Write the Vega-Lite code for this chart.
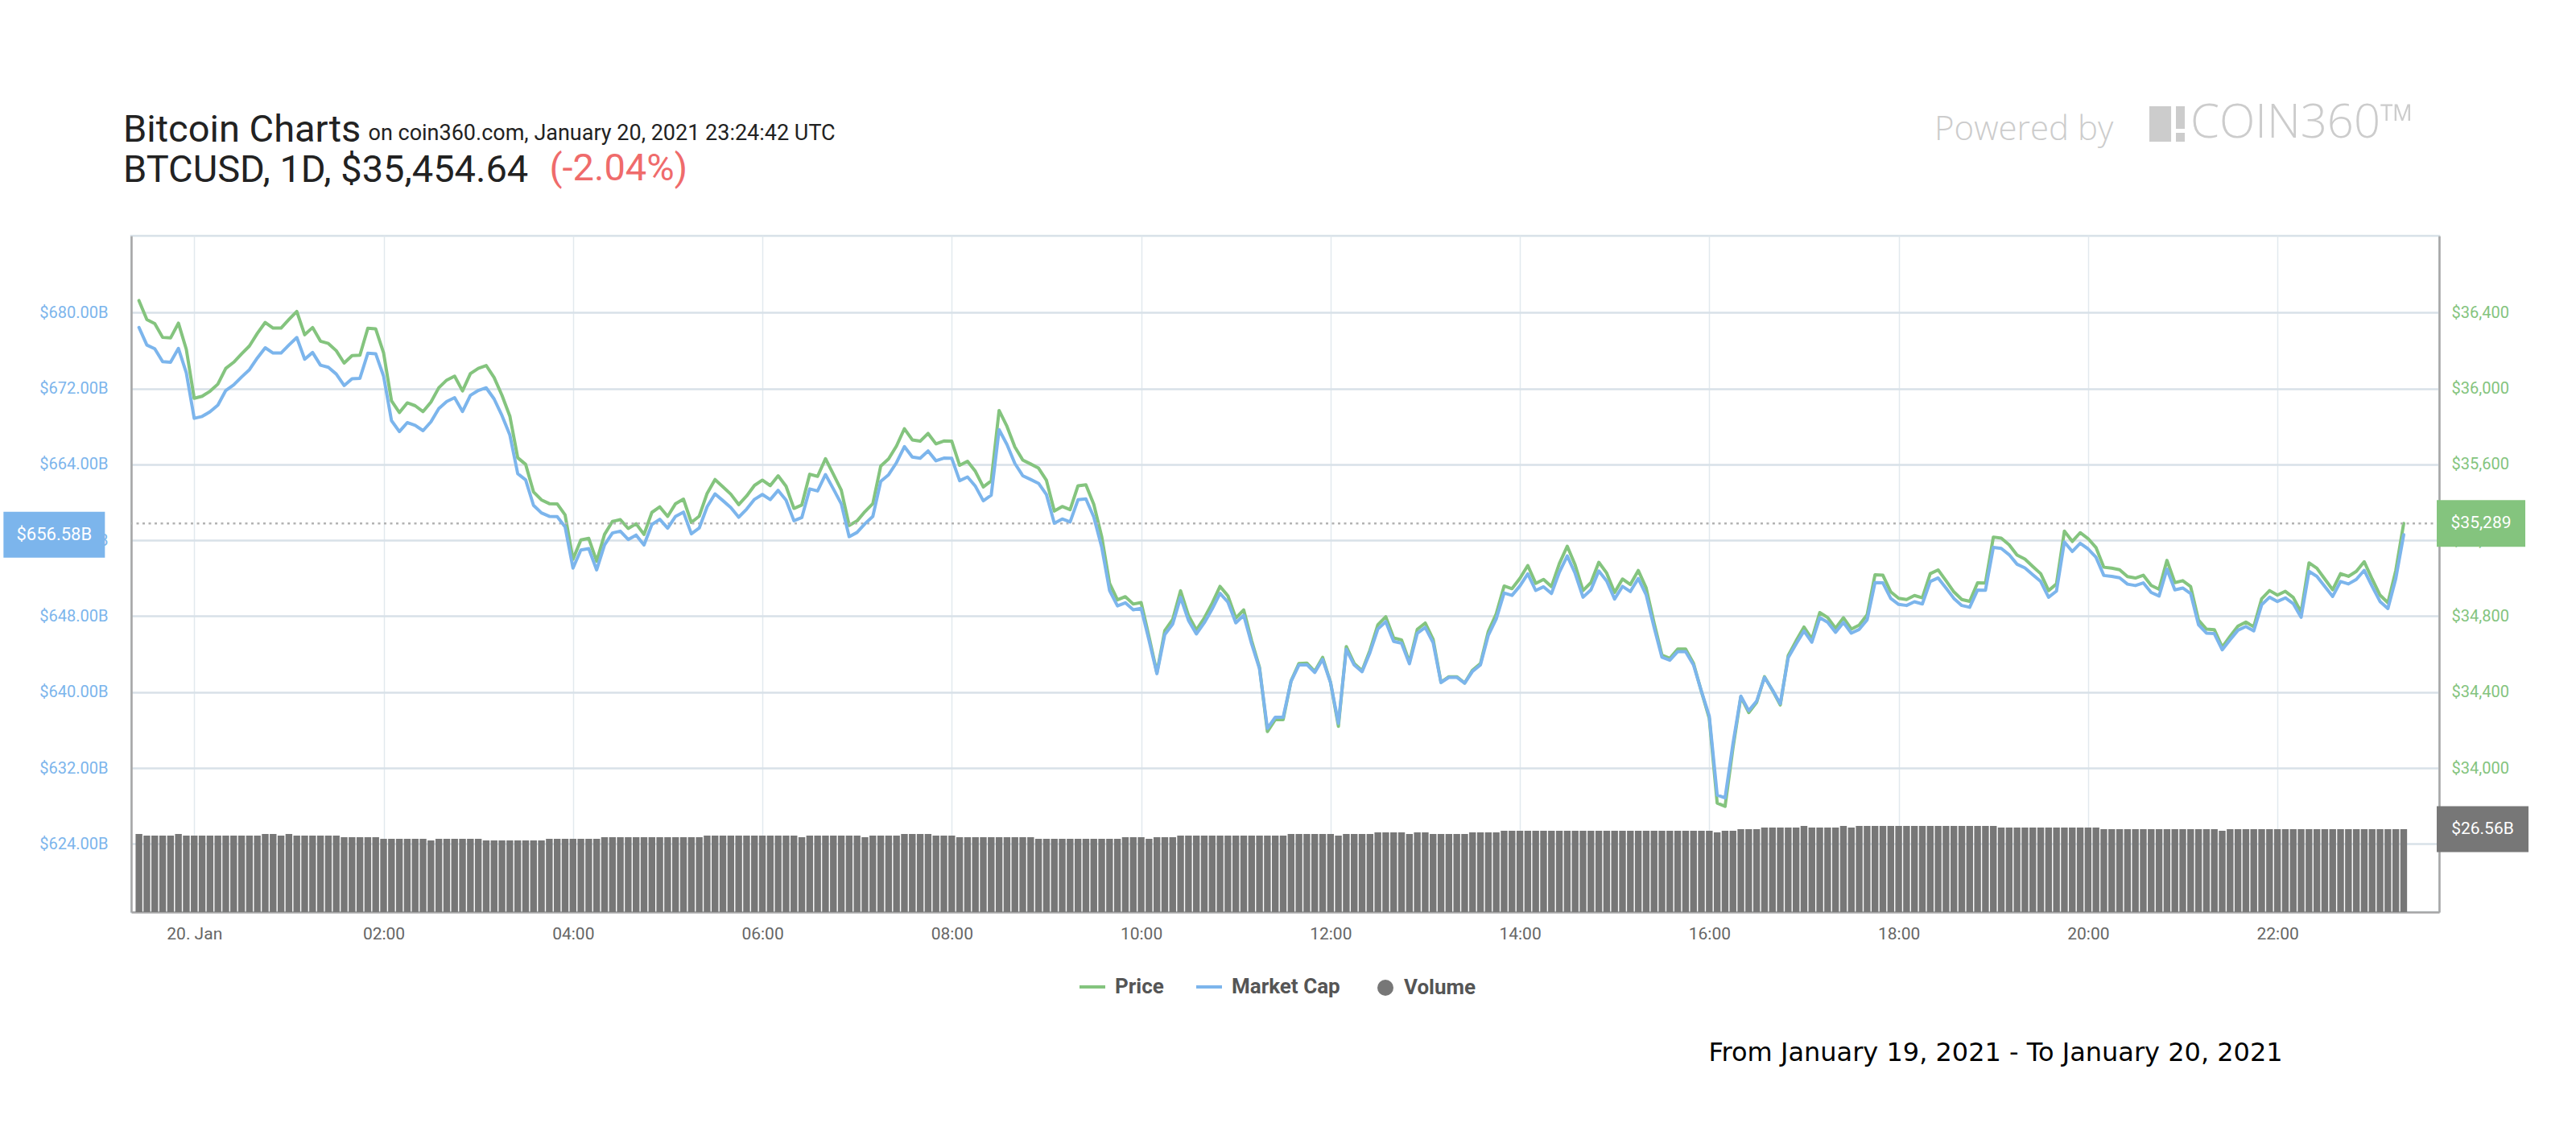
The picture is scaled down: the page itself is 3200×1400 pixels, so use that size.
{
  "$schema": "https://vega.github.io/schema/vega-lite/v6.json",
  "width": 2867,
  "height": 840,
  "autosize": {"type": "none"},
  "padding": {"left": 163, "top": 293, "right": 170, "bottom": 267},
  "background": "white",
  "title": {
    "text": "Bitcoin Charts",
    "subtitle": "BTCUSD, 1D, $35,454.64",
    "anchor": "start",
    "frame": "group",
    "dx": -10,
    "dy": 111,
    "offset": 0,
    "font": "Roboto",
    "fontSize": 47,
    "fontWeight": "normal",
    "color": "#222222",
    "subtitleFont": "Roboto",
    "subtitleFontSize": 47,
    "subtitleColor": "#222222",
    "subtitlePadding": 3
  },
  "data": {
    "values": [
      {"t": "2021-01-19T23:25Z", "price": 36463, "mcap": 678.43, "vol": 25.01},
      {"t": "2021-01-19T23:30Z", "price": 36363, "mcap": 676.57, "vol": 24.5},
      {"t": "2021-01-19T23:35Z", "price": 36342, "mcap": 676.18, "vol": 24.5},
      {"t": "2021-01-19T23:40Z", "price": 36269, "mcap": 674.82, "vol": 24.5},
      {"t": "2021-01-19T23:45Z", "price": 36266, "mcap": 674.76, "vol": 24.5},
      {"t": "2021-01-19T23:50Z", "price": 36344, "mcap": 676.22, "vol": 25.01},
      {"t": "2021-01-19T23:55Z", "price": 36206, "mcap": 673.65, "vol": 24.5},
      {"t": "2021-01-20T00:00Z", "price": 35948, "mcap": 668.85, "vol": 24.5},
      {"t": "2021-01-20T00:05Z", "price": 35959, "mcap": 669.05, "vol": 24.5},
      {"t": "2021-01-20T00:10Z", "price": 35985, "mcap": 669.54, "vol": 24.5},
      {"t": "2021-01-20T00:15Z", "price": 36023, "mcap": 670.24, "vol": 24.5},
      {"t": "2021-01-20T00:20Z", "price": 36106, "mcap": 671.79, "vol": 24.5},
      {"t": "2021-01-20T00:25Z", "price": 36138, "mcap": 672.38, "vol": 24.5},
      {"t": "2021-01-20T00:30Z", "price": 36182, "mcap": 673.2, "vol": 24.5},
      {"t": "2021-01-20T00:35Z", "price": 36224, "mcap": 673.98, "vol": 24.5},
      {"t": "2021-01-20T00:40Z", "price": 36290, "mcap": 675.21, "vol": 24.5},
      {"t": "2021-01-20T00:45Z", "price": 36348, "mcap": 676.29, "vol": 25.01},
      {"t": "2021-01-20T00:50Z", "price": 36318, "mcap": 675.73, "vol": 25.01},
      {"t": "2021-01-20T00:55Z", "price": 36318, "mcap": 675.73, "vol": 24.5},
      {"t": "2021-01-20T01:00Z", "price": 36363, "mcap": 676.57, "vol": 25.01},
      {"t": "2021-01-20T01:05Z", "price": 36406, "mcap": 677.37, "vol": 24.5},
      {"t": "2021-01-20T01:10Z", "price": 36283, "mcap": 675.08, "vol": 24.5},
      {"t": "2021-01-20T01:15Z", "price": 36321, "mcap": 675.79, "vol": 24.5},
      {"t": "2021-01-20T01:20Z", "price": 36249, "mcap": 674.45, "vol": 24.5},
      {"t": "2021-01-20T01:25Z", "price": 36237, "mcap": 674.23, "vol": 24.5},
      {"t": "2021-01-20T01:30Z", "price": 36199, "mcap": 673.52, "vol": 24.5},
      {"t": "2021-01-20T01:35Z", "price": 36134, "mcap": 672.31, "vol": 23.98},
      {"t": "2021-01-20T01:40Z", "price": 36173, "mcap": 673.03, "vol": 23.98},
      {"t": "2021-01-20T01:45Z", "price": 36175, "mcap": 673.07, "vol": 23.98},
      {"t": "2021-01-20T01:50Z", "price": 36317, "mcap": 675.71, "vol": 23.98},
      {"t": "2021-01-20T01:55Z", "price": 36314, "mcap": 675.66, "vol": 23.98},
      {"t": "2021-01-20T02:00Z", "price": 36187, "mcap": 673.3, "vol": 23.47},
      {"t": "2021-01-20T02:05Z", "price": 35935, "mcap": 668.61, "vol": 23.47},
      {"t": "2021-01-20T02:10Z", "price": 35873, "mcap": 667.45, "vol": 23.47},
      {"t": "2021-01-20T02:15Z", "price": 35924, "mcap": 668.4, "vol": 23.47},
      {"t": "2021-01-20T02:20Z", "price": 35909, "mcap": 668.12, "vol": 23.47},
      {"t": "2021-01-20T02:25Z", "price": 35878, "mcap": 667.55, "vol": 23.47},
      {"t": "2021-01-20T02:30Z", "price": 35928, "mcap": 668.48, "vol": 22.95},
      {"t": "2021-01-20T02:35Z", "price": 36004, "mcap": 669.89, "vol": 23.47},
      {"t": "2021-01-20T02:40Z", "price": 36044, "mcap": 670.63, "vol": 23.47},
      {"t": "2021-01-20T02:45Z", "price": 36065, "mcap": 671.03, "vol": 23.47},
      {"t": "2021-01-20T02:50Z", "price": 35987, "mcap": 669.57, "vol": 23.47},
      {"t": "2021-01-20T02:55Z", "price": 36078, "mcap": 671.27, "vol": 23.47},
      {"t": "2021-01-20T03:00Z", "price": 36106, "mcap": 671.79, "vol": 23.47},
      {"t": "2021-01-20T03:05Z", "price": 36121, "mcap": 672.07, "vol": 22.95},
      {"t": "2021-01-20T03:10Z", "price": 36058, "mcap": 670.9, "vol": 22.95},
      {"t": "2021-01-20T03:15Z", "price": 35964, "mcap": 669.15, "vol": 22.95},
      {"t": "2021-01-20T03:20Z", "price": 35854, "mcap": 667.1, "vol": 22.95},
      {"t": "2021-01-20T03:25Z", "price": 35635, "mcap": 663.02, "vol": 22.95},
      {"t": "2021-01-20T03:30Z", "price": 35600, "mcap": 662.37, "vol": 22.95},
      {"t": "2021-01-20T03:35Z", "price": 35455, "mcap": 659.68, "vol": 22.95},
      {"t": "2021-01-20T03:40Z", "price": 35413, "mcap": 658.89, "vol": 22.95},
      {"t": "2021-01-20T03:45Z", "price": 35393, "mcap": 658.52, "vol": 23.47},
      {"t": "2021-01-20T03:50Z", "price": 35392, "mcap": 658.5, "vol": 23.47},
      {"t": "2021-01-20T03:55Z", "price": 35334, "mcap": 657.42, "vol": 23.47},
      {"t": "2021-01-20T04:00Z", "price": 35100, "mcap": 653.07, "vol": 23.47},
      {"t": "2021-01-20T04:05Z", "price": 35202, "mcap": 654.97, "vol": 23.47},
      {"t": "2021-01-20T04:10Z", "price": 35210, "mcap": 655.12, "vol": 23.47},
      {"t": "2021-01-20T04:15Z", "price": 35090, "mcap": 652.88, "vol": 23.47},
      {"t": "2021-01-20T04:20Z", "price": 35231, "mcap": 655.51, "vol": 23.98},
      {"t": "2021-01-20T04:25Z", "price": 35299, "mcap": 656.77, "vol": 23.98},
      {"t": "2021-01-20T04:30Z", "price": 35309, "mcap": 656.96, "vol": 23.98},
      {"t": "2021-01-20T04:35Z", "price": 35262, "mcap": 656.08, "vol": 23.98},
      {"t": "2021-01-20T04:40Z", "price": 35287, "mcap": 656.55, "vol": 23.98},
      {"t": "2021-01-20T04:45Z", "price": 35231, "mcap": 655.51, "vol": 23.98},
      {"t": "2021-01-20T04:50Z", "price": 35347, "mcap": 657.67, "vol": 23.98},
      {"t": "2021-01-20T04:55Z", "price": 35376, "mcap": 658.21, "vol": 23.98},
      {"t": "2021-01-20T05:00Z", "price": 35326, "mcap": 657.28, "vol": 23.98},
      {"t": "2021-01-20T05:05Z", "price": 35393, "mcap": 658.52, "vol": 23.98},
      {"t": "2021-01-20T05:10Z", "price": 35417, "mcap": 658.97, "vol": 23.98},
      {"t": "2021-01-20T05:15Z", "price": 35294, "mcap": 656.68, "vol": 23.98},
      {"t": "2021-01-20T05:20Z", "price": 35327, "mcap": 657.29, "vol": 23.98},
      {"t": "2021-01-20T05:25Z", "price": 35447, "mcap": 659.53, "vol": 24.5},
      {"t": "2021-01-20T05:30Z", "price": 35520, "mcap": 660.89, "vol": 24.5},
      {"t": "2021-01-20T05:35Z", "price": 35482, "mcap": 660.18, "vol": 24.5},
      {"t": "2021-01-20T05:40Z", "price": 35443, "mcap": 659.45, "vol": 24.5},
      {"t": "2021-01-20T05:45Z", "price": 35388, "mcap": 658.43, "vol": 24.5},
      {"t": "2021-01-20T05:50Z", "price": 35433, "mcap": 659.27, "vol": 24.5},
      {"t": "2021-01-20T05:55Z", "price": 35489, "mcap": 660.31, "vol": 24.5},
      {"t": "2021-01-20T06:00Z", "price": 35517, "mcap": 660.83, "vol": 24.5},
      {"t": "2021-01-20T06:05Z", "price": 35488, "mcap": 660.29, "vol": 24.5},
      {"t": "2021-01-20T06:10Z", "price": 35540, "mcap": 661.26, "vol": 24.5},
      {"t": "2021-01-20T06:15Z", "price": 35485, "mcap": 660.23, "vol": 24.5},
      {"t": "2021-01-20T06:20Z", "price": 35368, "mcap": 658.06, "vol": 24.5},
      {"t": "2021-01-20T06:25Z", "price": 35386, "mcap": 658.39, "vol": 23.98},
      {"t": "2021-01-20T06:30Z", "price": 35548, "mcap": 661.41, "vol": 24.5},
      {"t": "2021-01-20T06:35Z", "price": 35537, "mcap": 661.2, "vol": 24.5},
      {"t": "2021-01-20T06:40Z", "price": 35630, "mcap": 662.93, "vol": 24.5},
      {"t": "2021-01-20T06:45Z", "price": 35548, "mcap": 661.41, "vol": 24.5},
      {"t": "2021-01-20T06:50Z", "price": 35464, "mcap": 659.84, "vol": 24.5},
      {"t": "2021-01-20T06:55Z", "price": 35278, "mcap": 656.38, "vol": 24.5},
      {"t": "2021-01-20T07:00Z", "price": 35302, "mcap": 656.83, "vol": 24.5},
      {"t": "2021-01-20T07:05Z", "price": 35351, "mcap": 657.74, "vol": 23.98},
      {"t": "2021-01-20T07:10Z", "price": 35393, "mcap": 658.52, "vol": 24.5},
      {"t": "2021-01-20T07:15Z", "price": 35591, "mcap": 662.21, "vol": 24.5},
      {"t": "2021-01-20T07:20Z", "price": 35629, "mcap": 662.91, "vol": 24.5},
      {"t": "2021-01-20T07:25Z", "price": 35697, "mcap": 664.18, "vol": 24.5},
      {"t": "2021-01-20T07:30Z", "price": 35788, "mcap": 665.87, "vol": 25.01},
      {"t": "2021-01-20T07:35Z", "price": 35729, "mcap": 664.77, "vol": 25.01},
      {"t": "2021-01-20T07:40Z", "price": 35722, "mcap": 664.64, "vol": 25.01},
      {"t": "2021-01-20T07:45Z", "price": 35763, "mcap": 665.41, "vol": 25.01},
      {"t": "2021-01-20T07:50Z", "price": 35708, "mcap": 664.38, "vol": 24.5},
      {"t": "2021-01-20T07:55Z", "price": 35723, "mcap": 664.66, "vol": 24.5},
      {"t": "2021-01-20T08:00Z", "price": 35722, "mcap": 664.64, "vol": 24.5},
      {"t": "2021-01-20T08:05Z", "price": 35595, "mcap": 662.28, "vol": 23.98},
      {"t": "2021-01-20T08:10Z", "price": 35616, "mcap": 662.67, "vol": 23.98},
      {"t": "2021-01-20T08:15Z", "price": 35563, "mcap": 661.69, "vol": 23.98},
      {"t": "2021-01-20T08:20Z", "price": 35481, "mcap": 660.16, "vol": 23.98},
      {"t": "2021-01-20T08:25Z", "price": 35513, "mcap": 660.75, "vol": 23.98},
      {"t": "2021-01-20T08:30Z", "price": 35884, "mcap": 667.66, "vol": 23.98},
      {"t": "2021-01-20T08:35Z", "price": 35800, "mcap": 666.09, "vol": 23.98},
      {"t": "2021-01-20T08:40Z", "price": 35692, "mcap": 664.09, "vol": 23.98},
      {"t": "2021-01-20T08:45Z", "price": 35623, "mcap": 662.8, "vol": 23.98},
      {"t": "2021-01-20T08:50Z", "price": 35602, "mcap": 662.41, "vol": 23.98},
      {"t": "2021-01-20T08:55Z", "price": 35580, "mcap": 662.0, "vol": 23.47},
      {"t": "2021-01-20T09:00Z", "price": 35516, "mcap": 660.81, "vol": 23.47},
      {"t": "2021-01-20T09:05Z", "price": 35354, "mcap": 657.8, "vol": 23.47},
      {"t": "2021-01-20T09:10Z", "price": 35378, "mcap": 658.24, "vol": 23.47},
      {"t": "2021-01-20T09:15Z", "price": 35361, "mcap": 657.93, "vol": 23.47},
      {"t": "2021-01-20T09:20Z", "price": 35487, "mcap": 660.27, "vol": 23.47},
      {"t": "2021-01-20T09:25Z", "price": 35492, "mcap": 660.36, "vol": 23.47},
      {"t": "2021-01-20T09:30Z", "price": 35389, "mcap": 658.45, "vol": 23.47},
      {"t": "2021-01-20T09:35Z", "price": 35220, "mcap": 655.3, "vol": 23.47},
      {"t": "2021-01-20T09:40Z", "price": 34973, "mcap": 650.71, "vol": 23.47},
      {"t": "2021-01-20T09:45Z", "price": 34886, "mcap": 649.09, "vol": 23.47},
      {"t": "2021-01-20T09:50Z", "price": 34903, "mcap": 649.41, "vol": 23.98},
      {"t": "2021-01-20T09:55Z", "price": 34864, "mcap": 648.68, "vol": 23.98},
      {"t": "2021-01-20T10:00Z", "price": 34872, "mcap": 648.83, "vol": 23.98},
      {"t": "2021-01-20T10:05Z", "price": 34692, "mcap": 645.48, "vol": 23.47},
      {"t": "2021-01-20T10:10Z", "price": 34502, "mcap": 641.94, "vol": 23.98},
      {"t": "2021-01-20T10:15Z", "price": 34724, "mcap": 646.07, "vol": 23.98},
      {"t": "2021-01-20T10:20Z", "price": 34783, "mcap": 647.17, "vol": 23.98},
      {"t": "2021-01-20T10:25Z", "price": 34934, "mcap": 649.98, "vol": 24.5},
      {"t": "2021-01-20T10:30Z", "price": 34804, "mcap": 647.56, "vol": 24.5},
      {"t": "2021-01-20T10:35Z", "price": 34727, "mcap": 646.13, "vol": 24.5},
      {"t": "2021-01-20T10:40Z", "price": 34790, "mcap": 647.3, "vol": 24.5},
      {"t": "2021-01-20T10:45Z", "price": 34868, "mcap": 648.75, "vol": 24.5},
      {"t": "2021-01-20T10:50Z", "price": 34957, "mcap": 650.41, "vol": 24.5},
      {"t": "2021-01-20T10:55Z", "price": 34907, "mcap": 649.48, "vol": 24.5},
      {"t": "2021-01-20T11:00Z", "price": 34790, "mcap": 647.3, "vol": 24.5},
      {"t": "2021-01-20T11:05Z", "price": 34833, "mcap": 648.1, "vol": 24.5},
      {"t": "2021-01-20T11:10Z", "price": 34671, "mcap": 645.09, "vol": 24.5},
      {"t": "2021-01-20T11:15Z", "price": 34530, "mcap": 642.47, "vol": 24.5},
      {"t": "2021-01-20T11:20Z", "price": 34192, "mcap": 636.18, "vol": 24.5},
      {"t": "2021-01-20T11:25Z", "price": 34255, "mcap": 637.35, "vol": 24.5},
      {"t": "2021-01-20T11:30Z", "price": 34255, "mcap": 637.35, "vol": 24.5},
      {"t": "2021-01-20T11:35Z", "price": 34459, "mcap": 641.14, "vol": 25.01},
      {"t": "2021-01-20T11:40Z", "price": 34551, "mcap": 642.86, "vol": 25.01},
      {"t": "2021-01-20T11:45Z", "price": 34553, "mcap": 642.89, "vol": 25.01},
      {"t": "2021-01-20T11:50Z", "price": 34509, "mcap": 642.07, "vol": 25.01},
      {"t": "2021-01-20T11:55Z", "price": 34583, "mcap": 643.45, "vol": 25.01},
      {"t": "2021-01-20T12:00Z", "price": 34452, "mcap": 641.01, "vol": 25.01},
      {"t": "2021-01-20T12:05Z", "price": 34220, "mcap": 636.7, "vol": 24.5},
      {"t": "2021-01-20T12:10Z", "price": 34640, "mcap": 644.51, "vol": 25.01},
      {"t": "2021-01-20T12:15Z", "price": 34551, "mcap": 642.86, "vol": 25.01},
      {"t": "2021-01-20T12:20Z", "price": 34513, "mcap": 642.15, "vol": 25.01},
      {"t": "2021-01-20T12:25Z", "price": 34621, "mcap": 644.16, "vol": 25.01},
      {"t": "2021-01-20T12:30Z", "price": 34755, "mcap": 646.65, "vol": 25.53},
      {"t": "2021-01-20T12:35Z", "price": 34797, "mcap": 647.43, "vol": 25.53},
      {"t": "2021-01-20T12:40Z", "price": 34685, "mcap": 645.35, "vol": 25.53},
      {"t": "2021-01-20T12:45Z", "price": 34675, "mcap": 645.16, "vol": 25.53},
      {"t": "2021-01-20T12:50Z", "price": 34558, "mcap": 642.99, "vol": 25.01},
      {"t": "2021-01-20T12:55Z", "price": 34731, "mcap": 646.21, "vol": 25.53},
      {"t": "2021-01-20T13:00Z", "price": 34764, "mcap": 646.82, "vol": 25.53},
      {"t": "2021-01-20T13:05Z", "price": 34678, "mcap": 645.22, "vol": 25.01},
      {"t": "2021-01-20T13:10Z", "price": 34452, "mcap": 641.01, "vol": 25.01},
      {"t": "2021-01-20T13:15Z", "price": 34481, "mcap": 641.55, "vol": 25.01},
      {"t": "2021-01-20T13:20Z", "price": 34481, "mcap": 641.55, "vol": 25.01},
      {"t": "2021-01-20T13:25Z", "price": 34448, "mcap": 640.94, "vol": 25.01},
      {"t": "2021-01-20T13:30Z", "price": 34516, "mcap": 642.2, "vol": 25.53},
      {"t": "2021-01-20T13:35Z", "price": 34551, "mcap": 642.86, "vol": 25.53},
      {"t": "2021-01-20T13:40Z", "price": 34720, "mcap": 646.0, "vol": 25.53},
      {"t": "2021-01-20T13:45Z", "price": 34812, "mcap": 647.71, "vol": 25.53},
      {"t": "2021-01-20T13:50Z", "price": 34959, "mcap": 650.45, "vol": 26.05},
      {"t": "2021-01-20T13:55Z", "price": 34945, "mcap": 650.19, "vol": 26.05},
      {"t": "2021-01-20T14:00Z", "price": 34999, "mcap": 651.19, "vol": 26.05},
      {"t": "2021-01-20T14:05Z", "price": 35067, "mcap": 652.46, "vol": 26.05},
      {"t": "2021-01-20T14:10Z", "price": 34973, "mcap": 650.71, "vol": 26.05},
      {"t": "2021-01-20T14:15Z", "price": 34994, "mcap": 651.1, "vol": 26.05},
      {"t": "2021-01-20T14:20Z", "price": 34956, "mcap": 650.39, "vol": 26.05},
      {"t": "2021-01-20T14:25Z", "price": 35077, "mcap": 652.64, "vol": 26.05},
      {"t": "2021-01-20T14:30Z", "price": 35169, "mcap": 654.35, "vol": 26.05},
      {"t": "2021-01-20T14:35Z", "price": 35070, "mcap": 652.51, "vol": 26.05},
      {"t": "2021-01-20T14:40Z", "price": 34935, "mcap": 650.0, "vol": 26.05},
      {"t": "2021-01-20T14:45Z", "price": 34977, "mcap": 650.78, "vol": 26.05},
      {"t": "2021-01-20T14:50Z", "price": 35084, "mcap": 652.77, "vol": 26.05},
      {"t": "2021-01-20T14:55Z", "price": 35027, "mcap": 651.71, "vol": 26.05},
      {"t": "2021-01-20T15:00Z", "price": 34925, "mcap": 649.81, "vol": 26.05},
      {"t": "2021-01-20T15:05Z", "price": 34996, "mcap": 651.14, "vol": 26.05},
      {"t": "2021-01-20T15:10Z", "price": 34967, "mcap": 650.6, "vol": 26.05},
      {"t": "2021-01-20T15:15Z", "price": 35041, "mcap": 651.97, "vol": 26.05},
      {"t": "2021-01-20T15:20Z", "price": 34949, "mcap": 650.26, "vol": 26.05},
      {"t": "2021-01-20T15:25Z", "price": 34765, "mcap": 646.84, "vol": 26.05},
      {"t": "2021-01-20T15:30Z", "price": 34595, "mcap": 643.67, "vol": 26.05},
      {"t": "2021-01-20T15:35Z", "price": 34578, "mcap": 643.36, "vol": 26.05},
      {"t": "2021-01-20T15:40Z", "price": 34627, "mcap": 644.27, "vol": 26.05},
      {"t": "2021-01-20T15:45Z", "price": 34627, "mcap": 644.27, "vol": 26.05},
      {"t": "2021-01-20T15:50Z", "price": 34552, "mcap": 642.87, "vol": 26.05},
      {"t": "2021-01-20T15:55Z", "price": 34403, "mcap": 640.1, "vol": 26.05},
      {"t": "2021-01-20T16:00Z", "price": 34261, "mcap": 637.46, "vol": 26.05},
      {"t": "2021-01-20T16:05Z", "price": 33815, "mcap": 629.16, "vol": 25.53},
      {"t": "2021-01-20T16:10Z", "price": 33798, "mcap": 628.85, "vol": 26.05},
      {"t": "2021-01-20T16:15Z", "price": 34105, "mcap": 634.56, "vol": 26.05},
      {"t": "2021-01-20T16:20Z", "price": 34375, "mcap": 639.58, "vol": 26.56},
      {"t": "2021-01-20T16:25Z", "price": 34292, "mcap": 638.04, "vol": 26.56},
      {"t": "2021-01-20T16:30Z", "price": 34346, "mcap": 639.04, "vol": 26.56},
      {"t": "2021-01-20T16:35Z", "price": 34481, "mcap": 641.55, "vol": 27.08},
      {"t": "2021-01-20T16:40Z", "price": 34410, "mcap": 640.23, "vol": 27.08},
      {"t": "2021-01-20T16:45Z", "price": 34332, "mcap": 638.78, "vol": 27.08},
      {"t": "2021-01-20T16:50Z", "price": 34592, "mcap": 643.62, "vol": 27.08},
      {"t": "2021-01-20T16:55Z", "price": 34670, "mcap": 645.07, "vol": 27.08},
      {"t": "2021-01-20T17:00Z", "price": 34743, "mcap": 646.43, "vol": 27.59},
      {"t": "2021-01-20T17:05Z", "price": 34680, "mcap": 645.26, "vol": 27.08},
      {"t": "2021-01-20T17:10Z", "price": 34819, "mcap": 647.84, "vol": 27.08},
      {"t": "2021-01-20T17:15Z", "price": 34793, "mcap": 647.36, "vol": 27.08},
      {"t": "2021-01-20T17:20Z", "price": 34736, "mcap": 646.3, "vol": 27.08},
      {"t": "2021-01-20T17:25Z", "price": 34792, "mcap": 647.34, "vol": 27.59},
      {"t": "2021-01-20T17:30Z", "price": 34732, "mcap": 646.22, "vol": 27.08},
      {"t": "2021-01-20T17:35Z", "price": 34753, "mcap": 646.61, "vol": 27.59},
      {"t": "2021-01-20T17:40Z", "price": 34807, "mcap": 647.62, "vol": 27.59},
      {"t": "2021-01-20T17:45Z", "price": 35018, "mcap": 651.54, "vol": 27.59},
      {"t": "2021-01-20T17:50Z", "price": 35016, "mcap": 651.51, "vol": 27.59},
      {"t": "2021-01-20T17:55Z", "price": 34928, "mcap": 649.87, "vol": 27.59},
      {"t": "2021-01-20T18:00Z", "price": 34894, "mcap": 649.24, "vol": 27.59},
      {"t": "2021-01-20T18:05Z", "price": 34888, "mcap": 649.13, "vol": 27.59},
      {"t": "2021-01-20T18:10Z", "price": 34909, "mcap": 649.52, "vol": 27.59},
      {"t": "2021-01-20T18:15Z", "price": 34897, "mcap": 649.29, "vol": 27.59},
      {"t": "2021-01-20T18:20Z", "price": 35024, "mcap": 651.66, "vol": 27.59},
      {"t": "2021-01-20T18:25Z", "price": 35044, "mcap": 652.03, "vol": 27.59},
      {"t": "2021-01-20T18:30Z", "price": 34987, "mcap": 650.97, "vol": 27.59},
      {"t": "2021-01-20T18:35Z", "price": 34928, "mcap": 649.87, "vol": 27.59},
      {"t": "2021-01-20T18:40Z", "price": 34888, "mcap": 649.13, "vol": 27.59},
      {"t": "2021-01-20T18:45Z", "price": 34878, "mcap": 648.94, "vol": 27.59},
      {"t": "2021-01-20T18:50Z", "price": 34976, "mcap": 650.76, "vol": 27.59},
      {"t": "2021-01-20T18:55Z", "price": 34975, "mcap": 650.74, "vol": 27.59},
      {"t": "2021-01-20T19:00Z", "price": 35217, "mcap": 655.25, "vol": 27.59},
      {"t": "2021-01-20T19:05Z", "price": 35211, "mcap": 655.14, "vol": 27.08},
      {"t": "2021-01-20T19:10Z", "price": 35176, "mcap": 654.48, "vol": 27.08},
      {"t": "2021-01-20T19:15Z", "price": 35122, "mcap": 653.48, "vol": 27.08},
      {"t": "2021-01-20T19:20Z", "price": 35101, "mcap": 653.09, "vol": 27.08},
      {"t": "2021-01-20T19:25Z", "price": 35062, "mcap": 652.36, "vol": 27.08},
      {"t": "2021-01-20T19:30Z", "price": 35024, "mcap": 651.66, "vol": 27.08},
      {"t": "2021-01-20T19:35Z", "price": 34935, "mcap": 650.0, "vol": 27.08},
      {"t": "2021-01-20T19:40Z", "price": 34970, "mcap": 650.65, "vol": 27.08},
      {"t": "2021-01-20T19:45Z", "price": 35248, "mcap": 655.82, "vol": 27.08},
      {"t": "2021-01-20T19:50Z", "price": 35194, "mcap": 654.82, "vol": 27.08},
      {"t": "2021-01-20T19:55Z", "price": 35240, "mcap": 655.68, "vol": 27.08},
      {"t": "2021-01-20T20:00Z", "price": 35209, "mcap": 655.1, "vol": 27.08},
      {"t": "2021-01-20T20:05Z", "price": 35162, "mcap": 654.22, "vol": 27.08},
      {"t": "2021-01-20T20:10Z", "price": 35058, "mcap": 652.29, "vol": 26.56},
      {"t": "2021-01-20T20:15Z", "price": 35053, "mcap": 652.2, "vol": 26.56},
      {"t": "2021-01-20T20:20Z", "price": 35045, "mcap": 652.05, "vol": 26.56},
      {"t": "2021-01-20T20:25Z", "price": 35009, "mcap": 651.38, "vol": 26.56},
      {"t": "2021-01-20T20:30Z", "price": 35001, "mcap": 651.23, "vol": 26.56},
      {"t": "2021-01-20T20:35Z", "price": 35016, "mcap": 651.51, "vol": 26.56},
      {"t": "2021-01-20T20:40Z", "price": 34962, "mcap": 650.5, "vol": 26.56},
      {"t": "2021-01-20T20:45Z", "price": 34942, "mcap": 650.13, "vol": 26.56},
      {"t": "2021-01-20T20:50Z", "price": 35094, "mcap": 652.96, "vol": 26.56},
      {"t": "2021-01-20T20:55Z", "price": 34977, "mcap": 650.78, "vol": 26.56},
      {"t": "2021-01-20T21:00Z", "price": 34987, "mcap": 650.97, "vol": 26.56},
      {"t": "2021-01-20T21:05Z", "price": 34956, "mcap": 650.39, "vol": 26.56},
      {"t": "2021-01-20T21:10Z", "price": 34779, "mcap": 647.1, "vol": 26.56},
      {"t": "2021-01-20T21:15Z", "price": 34732, "mcap": 646.22, "vol": 26.56},
      {"t": "2021-01-20T21:20Z", "price": 34729, "mcap": 646.17, "vol": 26.56},
      {"t": "2021-01-20T21:25Z", "price": 34637, "mcap": 644.46, "vol": 26.05},
      {"t": "2021-01-20T21:30Z", "price": 34694, "mcap": 645.52, "vol": 26.56},
      {"t": "2021-01-20T21:35Z", "price": 34748, "mcap": 646.52, "vol": 26.56},
      {"t": "2021-01-20T21:40Z", "price": 34769, "mcap": 646.91, "vol": 26.56},
      {"t": "2021-01-20T21:45Z", "price": 34744, "mcap": 646.45, "vol": 26.56},
      {"t": "2021-01-20T21:50Z", "price": 34892, "mcap": 649.2, "vol": 26.56},
      {"t": "2021-01-20T21:55Z", "price": 34935, "mcap": 650.0, "vol": 26.56},
      {"t": "2021-01-20T22:00Z", "price": 34911, "mcap": 649.55, "vol": 26.56},
      {"t": "2021-01-20T22:05Z", "price": 34931, "mcap": 649.93, "vol": 26.56},
      {"t": "2021-01-20T22:10Z", "price": 34899, "mcap": 649.33, "vol": 26.56},
      {"t": "2021-01-20T22:15Z", "price": 34821, "mcap": 647.88, "vol": 26.56},
      {"t": "2021-01-20T22:20Z", "price": 35081, "mcap": 652.72, "vol": 26.56},
      {"t": "2021-01-20T22:25Z", "price": 35053, "mcap": 652.2, "vol": 26.56},
      {"t": "2021-01-20T22:30Z", "price": 34996, "mcap": 651.14, "vol": 26.56},
      {"t": "2021-01-20T22:35Z", "price": 34939, "mcap": 650.08, "vol": 26.56},
      {"t": "2021-01-20T22:40Z", "price": 35024, "mcap": 651.66, "vol": 26.56},
      {"t": "2021-01-20T22:45Z", "price": 35010, "mcap": 651.4, "vol": 26.56},
      {"t": "2021-01-20T22:50Z", "price": 35036, "mcap": 651.88, "vol": 26.56},
      {"t": "2021-01-20T22:55Z", "price": 35087, "mcap": 652.83, "vol": 26.56},
      {"t": "2021-01-20T23:00Z", "price": 34996, "mcap": 651.14, "vol": 26.56},
      {"t": "2021-01-20T23:05Z", "price": 34911, "mcap": 649.55, "vol": 26.56},
      {"t": "2021-01-20T23:10Z", "price": 34871, "mcap": 648.81, "vol": 26.56},
      {"t": "2021-01-20T23:15Z", "price": 35041, "mcap": 651.97, "vol": 26.56},
      {"t": "2021-01-20T23:20Z", "price": 35289, "mcap": 656.58, "vol": 26.56}
    ]
  },
  "layer": [
    {
      "mark": {"type": "line", "strokeWidth": 4, "strokeJoin": "round", "strokeCap": "round"},
      "encoding": {
        "x": {
          "field": "t",
          "type": "temporal",
          "scale": {"type": "utc", "nice": false, "domain": [{"year": 2021, "month": 1, "date": 19, "hours": 23, "minutes": 22, "seconds": 38, "utc": true}, {"year": 2021, "month": 1, "date": 20, "hours": 23, "minutes": 39, "seconds": 55, "utc": true}]},
          "axis": {
            "values": [
              {"year": 2021, "month": 1, "date": 20, "hours": 0, "utc": true},
              {"year": 2021, "month": 1, "date": 20, "hours": 2, "utc": true},
              {"year": 2021, "month": 1, "date": 20, "hours": 4, "utc": true},
              {"year": 2021, "month": 1, "date": 20, "hours": 6, "utc": true},
              {"year": 2021, "month": 1, "date": 20, "hours": 8, "utc": true},
              {"year": 2021, "month": 1, "date": 20, "hours": 10, "utc": true},
              {"year": 2021, "month": 1, "date": 20, "hours": 12, "utc": true},
              {"year": 2021, "month": 1, "date": 20, "hours": 14, "utc": true},
              {"year": 2021, "month": 1, "date": 20, "hours": 16, "utc": true},
              {"year": 2021, "month": 1, "date": 20, "hours": 18, "utc": true},
              {"year": 2021, "month": 1, "date": 20, "hours": 20, "utc": true},
              {"year": 2021, "month": 1, "date": 20, "hours": 22, "utc": true}
            ],
            "format": "%H:%M",
            "labelExpr": "datum.label == '00:00' ? '20. Jan' : datum.label",
            "labelFont": "Roboto",
            "labelFontSize": 21,
            "labelColor": "#666666",
            "labelPadding": 16,
            "labelFlush": false,
            "labelOverlap": false,
            "ticks": false,
            "grid": true,
            "gridColor": "#e2e9ee",
            "gridWidth": 1.5,
            "domainColor": "#a6a6a6",
            "domainWidth": 2.5,
            "title": "From January 19, 2021 - To January 20, 2021",
            "titleX": 1959,
            "titleY": 184,
            "titleAlign": "left",
            "titleBaseline": "alphabetic",
            "titleFont": "DejaVu Sans",
            "titleFontSize": 32,
            "titleFontWeight": "normal",
            "titleColor": "#000000",
            "titleLimit": 3000
          }
        },
        "y": {
          "field": "price",
          "type": "quantitative",
          "scale": {"domain": [33241, 36804], "nice": false, "zero": false},
          "axis": {
            "orient": "right",
            "values": [33600, 34000, 34400, 34800, 35200, 35600, 36000, 36400],
            "labelExpr": "'$' + format(datum.value, ',')",
            "labelFont": "Roboto",
            "labelFontSize": 20,
            "labelColor": "#84c47e",
            "labelPadding": 15,
            "ticks": false,
            "grid": false,
            "domainColor": "#a6a6a6",
            "domainWidth": 2.5,
            "title": "(-2.04%)",
            "titleX": -2348,
            "titleY": -70,
            "titleAngle": 0,
            "titleAlign": "left",
            "titleBaseline": "alphabetic",
            "titleFont": "Roboto",
            "titleFontSize": 47,
            "titleFontWeight": "normal",
            "titleColor": "#ef6b6b",
            "titleLimit": 3000
          }
        },
        "color": {
          "datum": "Price",
          "scale": {"domain": ["Price", "Market Cap"], "range": ["#84c47e", "#7cb5ec"]},
          "legend": {
            "orient": "none",
            "legendX": 1176,
            "legendY": 915,
            "direction": "horizontal",
            "title": null,
            "padding": 0,
            "symbolType": "stroke",
            "symbolSize": 1024,
            "symbolStrokeWidth": 4,
            "labelFont": "Roboto",
            "labelFontSize": 26,
            "labelFontWeight": "bold",
            "labelColor": "#555555",
            "labelOffset": 10,
            "labelLimit": 1000,
            "columnPadding": 32
          }
        }
      }
    },
    {
      "transform": [{"aggregate": [{"op": "argmax", "field": "t", "as": "last"}]}],
      "mark": {"type": "rule", "color": "#b3b3b3", "strokeWidth": 2.5, "strokeDash": [3, 4.5]},
      "encoding": {
        "y": {"field": "last.price", "type": "quantitative", "scale": {"domain": [33241, 36804], "nice": false, "zero": false}, "axis": null},
        "fill": {
          "datum": "COIN360™",
          "scale": {"range": ["#cccccc"]},
          "legend": {
            "orient": "none",
            "legendX": 2240,
            "legendY": -168,
            "direction": "horizontal",
            "padding": 0,
            "title": "Powered by",
            "titleOrient": "left",
            "titleAnchor": "end",
            "titleBaseline": "bottom",
            "titleFont": "Open Sans",
            "titleFontSize": 42,
            "titleFontWeight": 300,
            "titleColor": "#cccccc",
            "titlePadding": 37,
            "titleLimit": 1000,
            "labelFont": "Open Sans",
            "labelFontSize": 58,
            "labelFontWeight": 300,
            "labelColor": "#cccccc",
            "labelOffset": 0,
            "labelLimit": 1000,
            "symbolType": "M-1,-1H0.23V1H-1Z M0.5,-1H1V0.27H0.5Z M0.5,0.5H1V1H0.5Z",
            "symbolSize": 1936,
            "symbolStrokeWidth": 0,
            "symbolOpacity": 1
          }
        }
      }
    },
    {
      "transform": [{"aggregate": [{"op": "argmax", "field": "t", "as": "last"}]}],
      "mark": {"type": "point", "shape": "M-1,-0.527H1V0.527H-1Z", "size": 12100, "filled": true, "opacity": 1, "strokeWidth": 0, "color": "#84c47e"},
      "encoding": {
        "x": {"datum": {"year": 2021, "month": 1, "date": 21, "hours": 0, "minutes": 9, "utc": true}, "type": "temporal", "axis": null},
        "y": {"field": "last.price", "type": "quantitative", "scale": {"domain": [33241, 36804], "nice": false, "zero": false}, "axis": null}
      }
    },
    {
      "transform": [{"aggregate": [{"op": "argmax", "field": "t", "as": "last"}]}],
      "mark": {"type": "text", "color": "#ffffff", "font": "Roboto", "fontSize": 21, "align": "center", "baseline": "middle", "text": {"expr": "'$' + format(datum.last.price, ',')"}},
      "encoding": {
        "x": {"datum": {"year": 2021, "month": 1, "date": 21, "hours": 0, "minutes": 9, "utc": true}, "type": "temporal", "axis": null},
        "y": {"field": "last.price", "type": "quantitative", "scale": {"domain": [33241, 36804], "nice": false, "zero": false}, "axis": null}
      }
    },
    {
      "mark": {"type": "line", "strokeWidth": 4, "strokeJoin": "round", "strokeCap": "round"},
      "encoding": {
        "x": {"field": "t", "type": "temporal", "axis": null},
        "y": {
          "field": "mcap",
          "type": "quantitative",
          "scale": {"domain": [616.82, 688.08], "nice": false, "zero": false},
          "axis": {
            "orient": "left",
            "values": [624, 632, 640, 648, 656, 664, 672, 680],
            "labelExpr": "'$' + format(datum.value, '.2f') + 'B'",
            "labelFont": "Roboto",
            "labelFontSize": 20,
            "labelColor": "#7cb5ec",
            "labelPadding": 29,
            "ticks": false,
            "grid": true,
            "gridColor": "#d8e1e8",
            "gridWidth": 2.5,
            "domainColor": "#a6a6a6",
            "domainWidth": 2.5,
            "title": "on coin360.com, January 20, 2021 23:24:42 UTC",
            "titleX": 294,
            "titleY": -120,
            "titleAngle": 0,
            "titleAlign": "left",
            "titleBaseline": "alphabetic",
            "titleFont": "Roboto",
            "titleFontSize": 27,
            "titleFontWeight": "normal",
            "titleColor": "#222222",
            "titleLimit": 3000
          }
        },
        "color": {"datum": "Market Cap", "scale": {"domain": ["Price", "Market Cap"], "range": ["#84c47e", "#7cb5ec"]}}
      }
    },
    {
      "transform": [{"aggregate": [{"op": "argmax", "field": "t", "as": "last"}]}],
      "mark": {"type": "point", "shape": "M-1,-0.452H1V0.452H-1Z", "size": 15876, "filled": true, "opacity": 1, "strokeWidth": 0, "color": "#7cb5ec"},
      "encoding": {
        "x": {"datum": {"year": 2021, "month": 1, "date": 19, "hours": 22, "minutes": 31, "seconds": 17, "utc": true}, "type": "temporal", "axis": null},
        "y": {"field": "last.mcap", "type": "quantitative", "scale": {"domain": [616.82, 688.08], "nice": false, "zero": false}, "axis": null}
      }
    },
    {
      "transform": [{"aggregate": [{"op": "argmax", "field": "t", "as": "last"}]}],
      "mark": {"type": "text", "color": "#ffffff", "font": "Roboto", "fontSize": 22, "align": "center", "baseline": "middle", "text": {"expr": "'$' + format(datum.last.mcap, '.2f') + 'B'"}},
      "encoding": {
        "x": {"datum": {"year": 2021, "month": 1, "date": 19, "hours": 22, "minutes": 31, "seconds": 17, "utc": true}, "type": "temporal", "axis": null},
        "y": {"field": "last.mcap", "type": "quantitative", "scale": {"domain": [616.82, 688.08], "nice": false, "zero": false}, "axis": null}
      }
    },
    {
      "mark": {"type": "bar", "width": 8.4},
      "encoding": {
        "x": {"field": "t", "type": "temporal", "axis": null},
        "y": {"field": "vol", "type": "quantitative", "scale": {"domain": [0, 216.6], "nice": false}, "axis": null},
        "fill": {
          "datum": "Volume",
          "scale": {"range": ["#777777"]},
          "legend": {
            "orient": "none",
            "legendX": 1545,
            "legendY": 921,
            "direction": "horizontal",
            "title": null,
            "padding": 0,
            "symbolType": "circle",
            "symbolSize": 400,
            "symbolStrokeWidth": 0,
            "labelFont": "Roboto",
            "labelFontSize": 26,
            "labelFontWeight": "bold",
            "labelColor": "#555555",
            "labelOffset": 10,
            "labelLimit": 1000
          }
        }
      }
    },
    {
      "transform": [{"aggregate": [{"op": "argmax", "field": "t", "as": "last"}]}],
      "mark": {"type": "point", "shape": "M-1,-0.5H1V0.5H-1Z", "size": 12996, "filled": true, "opacity": 1, "strokeWidth": 0, "color": "#777777"},
      "encoding": {
        "x": {"datum": {"year": 2021, "month": 1, "date": 21, "hours": 0, "minutes": 10, "utc": true}, "type": "temporal", "axis": null},
        "y": {"field": "last.vol", "type": "quantitative", "scale": {"domain": [0, 216.6], "nice": false}, "axis": null}
      }
    },
    {
      "transform": [{"aggregate": [{"op": "argmax", "field": "t", "as": "last"}]}],
      "mark": {"type": "text", "color": "#ffffff", "font": "Roboto", "fontSize": 21, "align": "center", "baseline": "middle", "text": {"expr": "'$' + format(datum.last.vol, '.2f') + 'B'"}},
      "encoding": {
        "x": {"datum": {"year": 2021, "month": 1, "date": 21, "hours": 0, "minutes": 10, "utc": true}, "type": "temporal", "axis": null},
        "y": {"field": "last.vol", "type": "quantitative", "scale": {"domain": [0, 216.6], "nice": false}, "axis": null}
      }
    }
  ],
  "resolve": {"scale": {"y": "independent", "fill": "independent"}, "axis": {"x": "independent"}},
  "config": {
    "font": "Roboto",
    "view": {"stroke": "#d8e1e8", "strokeWidth": 2.5}
  }
}
